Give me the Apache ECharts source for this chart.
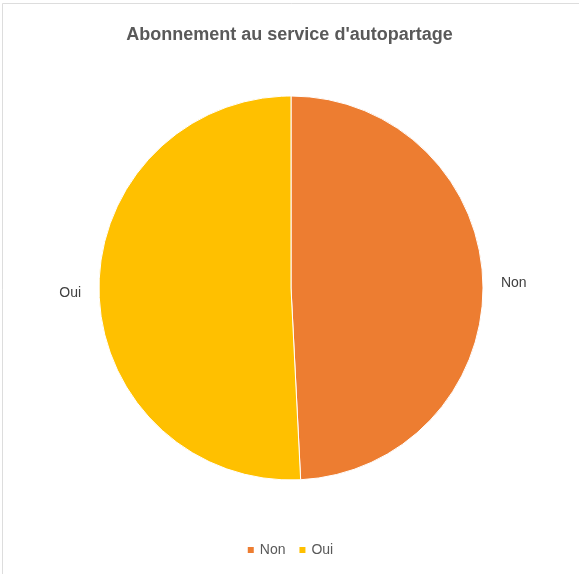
<!DOCTYPE html>
<html>
<head>
<meta charset="utf-8">
<script src="https://cdn.jsdelivr.net/npm/echarts@6/dist/echarts.min.js"></script>
<style>
  html, body { margin: 0; padding: 0; background: #fff; }
  #chart { width: 579px; height: 574px; }
</style>
</head>
<body>
<div id="chart"></div>
<script>
// Subscription to the car-sharing service (share of respondents, %)
const categories = ['Non', 'Oui'];
const shares = [49.2, 50.8];
const sliceColors = ['#ED7D31', '#FFC000'];

const chart = echarts.init(document.getElementById('chart'), null, { renderer: 'canvas' });

const FONT = '"Liberation Sans", Arial, sans-serif';

chart.setOption({
  backgroundColor: '#ffffff',
  animation: false,
  title: {
    text: "Abonnement au service d'autopartage",
    left: 'center',
    top: 21,
    textStyle: { fontFamily: FONT, fontSize: 18, fontWeight: 'bold', color: '#595959' }
  },
  legend: {
    bottom: 12,
    left: 'center',
    icon: 'rect',
    itemWidth: 8,
    itemHeight: 8,
    itemGap: 12,
    textStyle: { fontFamily: FONT, fontSize: 14, color: '#595959' },
    data: categories
  },
  graphic: [{
    type: 'rect',
    shape: { x: 2.5, y: 3.5, width: 600, height: 600 },
    style: { fill: 'none', stroke: '#dddddd', lineWidth: 1 },
    silent: true
  }],
  series: [{
    type: 'pie',
    center: [291, 288],
    radius: 192,
    startAngle: 90,
    clockwise: true,
    data: categories.map((name, i) => ({
      name,
      value: shares[i],
      itemStyle: { color: sliceColors[i] }
    })),
    itemStyle: { borderColor: '#ffffff', borderWidth: 1 },
    label: {
      show: true,
      position: 'outside',
      formatter: '{b}',
      fontFamily: FONT,
      fontSize: 14,
      color: '#404040'
    },
    labelLine: { show: false, length: 8, length2: 5 },
    emphasis: { disabled: true }
  }]
});
</script>
</body>
</html>
